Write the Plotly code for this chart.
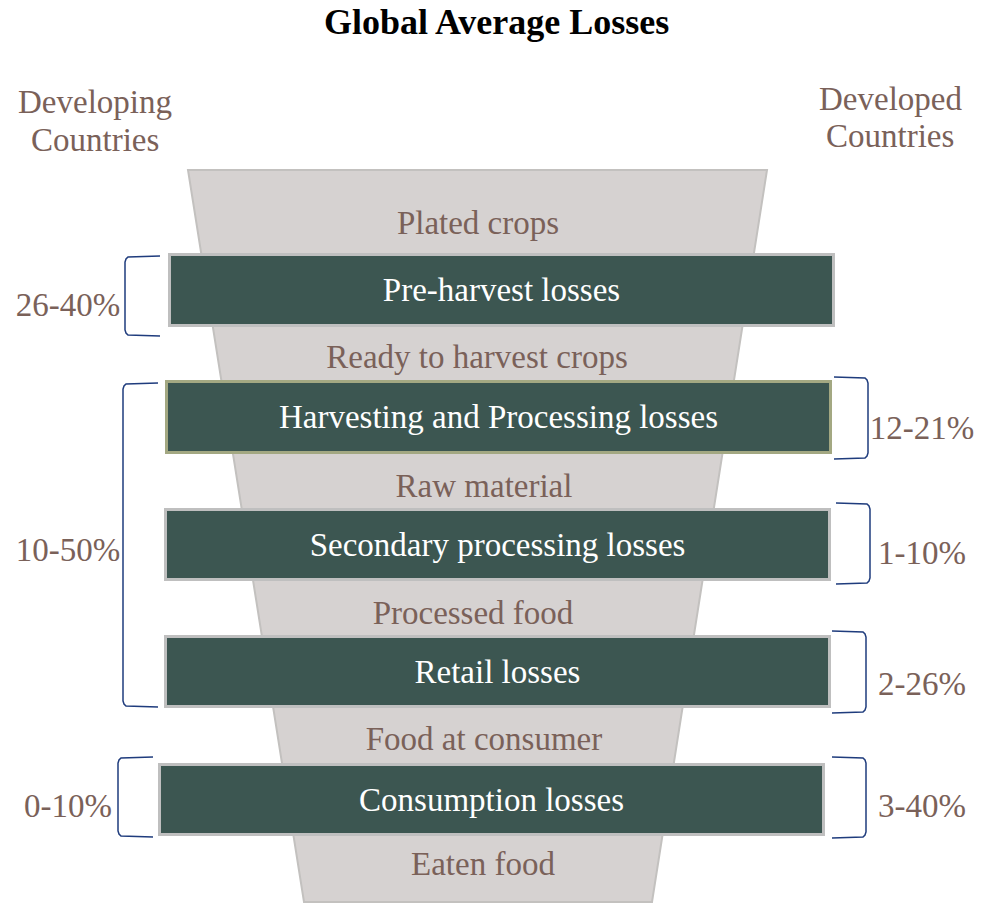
"""Funnel diagram of global average food losses, drawn with Plotly."""
import plotly.graph_objects as go

# ---- data -------------------------------------------------------------
stages = ["Plated crops", "Ready to harvest crops", "Raw material",
          "Processed food", "Food at consumer", "Eaten food"]
losses = ["Pre-harvest losses", "Harvesting and Processing losses",
          "Secondary processing losses", "Retail losses", "Consumption losses"]
developing = ["26-40%", "10-50%", "0-10%"]
developed = ["12-21%", "1-10%", "2-26%", "3-40%"]

# ---- layout (pixel-like coordinates, y grows downward) ----------------
W, H = 981, 903
FONT = "Liberation Serif"
BROWN = "#7a6159"
NAVY = "#1f3c7d"

funnel_x = [188, 767, 652, 304]
funnel_y = [170, 170, 902, 902]

stage_x = [478, 477, 484, 473, 484, 483]
stage_y = [226, 360, 489, 616, 742, 867]

bar_x0 = [170, 167, 166, 166, 160]
bar_x1 = [834, 831, 830, 830, 824]
bar_y0 = [255, 382, 510, 637, 765]
bar_y1 = [326, 453, 580, 707, 835]
bar_edge = ["#bfbfbf", "#a3a882", "#bfbfbf", "#bfbfbf", "#bfbfbf"]

left_span = [(256, 336), (383, 707), (757, 837)]
left_spine = [125, 123, 118]
left_tip = [160, 158, 153]
left_label_y = [308, 553, 809]

right_span = [(377, 459), (503, 584), (631, 713), (757, 838)]
right_spine = [868, 870, 866, 866]
right_tip = [834, 836, 832, 832]
right_label_y = [431, 556, 687, 809]


def bracket(spine, tip, y0, y1):
    """Points of a square bracket with slightly rounded corners."""
    d = 1 if tip > spine else -1
    xs = [tip, spine + 3 * d, spine + 1 * d, spine, spine, spine + 1 * d, spine + 3 * d, tip]
    ys = [y0, y0 + 1, y0 + 3, y0 + 6, y1 - 6, y1 - 3, y1 - 1, y1]
    return xs, ys


fig = go.Figure()

# funnel body (shape below all traces)
path = "M " + " L ".join(f"{x},{y}" for x, y in zip(funnel_x, funnel_y)) + " Z"
fig.add_shape(type="path", path=path, xref="x", yref="y", layer="below",
              fillcolor="#d6d2d1", line=dict(color="#c3c1bf", width=2))

# loss bars
fig.add_trace(go.Bar(
    orientation="h",
    y=[(a + b) / 2 for a, b in zip(bar_y0, bar_y1)],
    x=[b - a for a, b in zip(bar_x0, bar_x1)],
    base=bar_x0,
    width=[b - a for a, b in zip(bar_y0, bar_y1)],
    marker=dict(color="#3c5651", line=dict(color=bar_edge, width=3)),
    text=losses, textposition="inside", insidetextanchor="middle",
    textfont=dict(family=FONT, size=33, color="white"),
    hoverinfo="skip", showlegend=False,
))

# brackets
for (y0, y1), sp, tp in zip(left_span, left_spine, left_tip):
    xs, ys = bracket(sp, tp, y0, y1)
    fig.add_trace(go.Scatter(x=xs, y=ys, mode="lines", line=dict(color=NAVY, width=1.5),
                             hoverinfo="skip", showlegend=False))
for (y0, y1), sp, tp in zip(right_span, right_spine, right_tip):
    xs, ys = bracket(sp, tp, y0, y1)
    fig.add_trace(go.Scatter(x=xs, y=ys, mode="lines", line=dict(color=NAVY, width=1.5),
                             hoverinfo="skip", showlegend=False))

# stage labels and percentages
fig.add_trace(go.Scatter(
    x=stage_x, y=stage_y, mode="text", text=stages,
    textfont=dict(family=FONT, size=33, color=BROWN),
    hoverinfo="skip", showlegend=False,
))
fig.add_trace(go.Scatter(
    x=[68] * len(developing), y=left_label_y, mode="text", text=developing,
    textfont=dict(family=FONT, size=33, color=BROWN),
    hoverinfo="skip", showlegend=False,
))
fig.add_trace(go.Scatter(
    x=[922] * len(developed), y=right_label_y, mode="text", text=developed,
    textfont=dict(family=FONT, size=33, color=BROWN),
    hoverinfo="skip", showlegend=False,
))

# headings
heads = [("Developing", 95, 102), ("Countries", 95, 140),
         ("Developed", 890, 99), ("Countries", 890, 136)]
for txt, hx, hy in heads:
    fig.add_annotation(x=hx, y=hy, text=txt, showarrow=False,
                       font=dict(family=FONT, size=33, color=BROWN))
fig.add_annotation(x=496, y=22, text="<b>Global Average Losses</b>", showarrow=False,
                   font=dict(family=FONT, size=36, color="black"))

fig.update_layout(
    width=W, height=H,
    margin=dict(l=0, r=0, t=0, b=0),
    paper_bgcolor="white", plot_bgcolor="rgba(0,0,0,0)",
    xaxis=dict(range=[0, W], visible=False, fixedrange=True),
    yaxis=dict(range=[H, 0], visible=False, fixedrange=True),
    bargap=0,
)

fig.write_html("out.html", config={"displayModeBar": False},
               post_script="document.body.style.margin = '0';")
